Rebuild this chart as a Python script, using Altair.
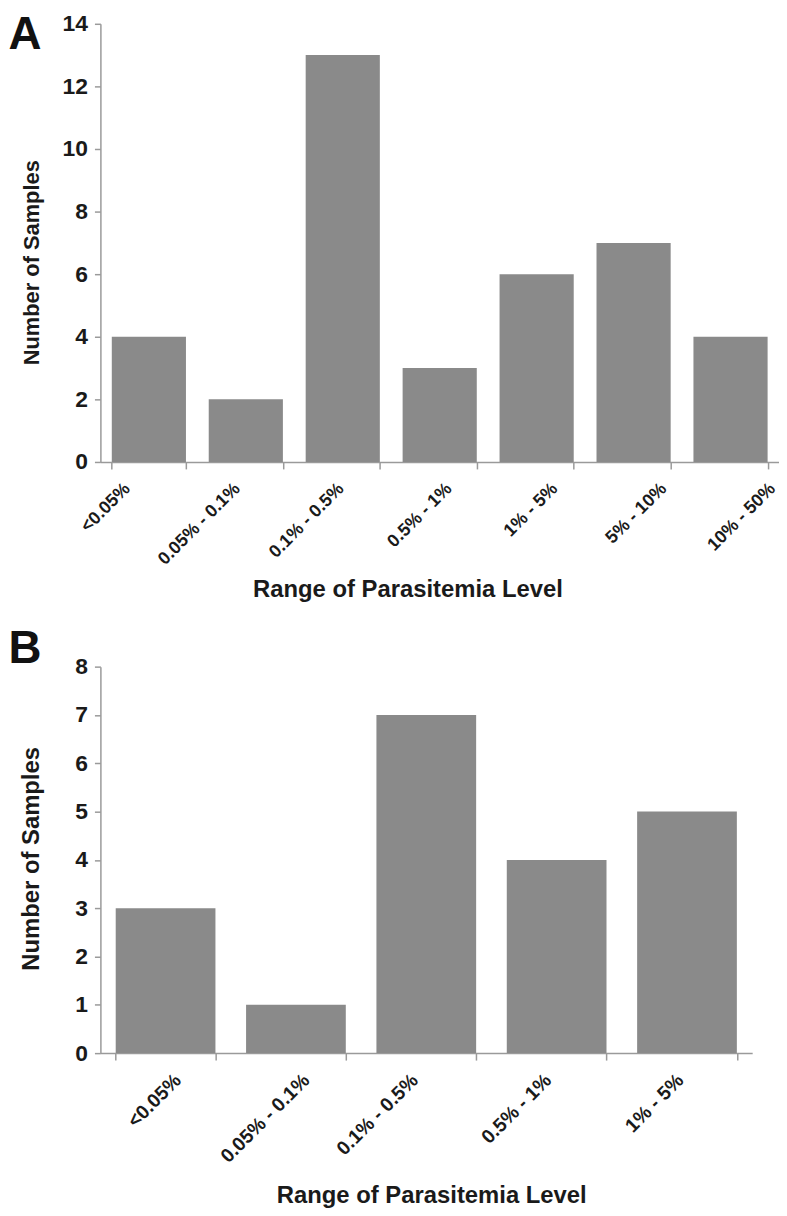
import json
import altair as alt
import pandas as pd

FONT = "Liberation Sans"

cats_a = ["<0.05%", "0.05% - 0.1%", "0.1% - 0.5%", "0.5% - 1%", "1% - 5%", "5% - 10%", "10% - 50%"]
vals_a = [4, 2, 13, 3, 6, 7, 4]
yticks_a = [0, 2, 4, 6, 8, 10, 12, 14]

cats_b = ["<0.05%", "0.05% - 0.1%", "0.1% - 0.5%", "0.5% - 1%", "1% - 5%"]
vals_b = [3, 1, 7, 4, 5]
yticks_b = [0, 1, 2, 3, 4, 5, 6, 7, 8]


def panel(cats, vals, yticks, letter, w, h, letter_y, label_shift, xlab_size,
          ytitle_size, ytitle_y, xtitle_x, xtitle_y):
    df = pd.DataFrame({"range": cats, "n": vals})
    off_expr = "[" + ",".join(str(v) for v in label_shift) + "][indexof(" + json.dumps(cats) + ", datum.value)]"
    xscale = alt.Scale(paddingInner=0.235, paddingOuter=0.1175)
    yenc = alt.Y(
        "n:Q",
        scale=alt.Scale(domain=[0, max(yticks)], nice=False),
        axis=alt.Axis(
            title="Number of Samples", values=yticks, format="d",
            labelFontSize=23, labelPadding=7, tickSize=6,
            titleFontSize=ytitle_size, titleX=-69, titleY=ytitle_y,
            titleBaseline="middle", titleAlign="center",
        ),
    )
    bars = (
        alt.Chart(df)
        .mark_bar(color="#8a8a8a")
        .encode(
            x=alt.X(
                "range:N", sort=cats, scale=xscale,
                axis=alt.Axis(
                    title="Range of Parasitemia Level",
                    labelAngle=-45, labelAlign="right", labelBaseline="middle",
                    labelFontSize=xlab_size, labelPadding=17,
                    labelOffset={"condition": {"test": "false", "value": 0}, "expr": off_expr},
                    tickBand="extent", tickSize=7,
                    titleX=xtitle_x, titleY=xtitle_y, titleBaseline="middle",
                    titleAlign="center", titleFontSize=24,
                ),
            ),
            y=yenc,
        )
    )
    # panel letter carried by an empty top axis
    letter_axis = (
        alt.Chart(df)
        .mark_bar(opacity=0)
        .encode(
            x=alt.X(
                "range:N", sort=cats, scale=xscale,
                axis=alt.Axis(
                    orient="top", title=letter, domain=False, ticks=False, labels=False,
                    titleX=-93, titleY=letter_y, titleAngle=0, titleAlign="left",
                    titleBaseline="alphabetic", titleFontSize=46, titleColor="#111111",
                ),
            ),
            y=alt.Y("n:Q"),
        )
    )
    return (
        alt.layer(bars, letter_axis)
        .resolve_axis(x="independent")
        .properties(width=w, height=h)
    )


pa = panel(cats_a, vals_a, yticks_a, "A", 683, 441, 25,
           [-22, -9, -2, 9, 18, 30, 42], 18, 22, 240, 309, 128)
pb = panel(cats_b, vals_b, yticks_b, "B", 656, 389, -4,
           [12, 10, -12, -9, -7], 19.5, 24, 193, 333, 143)

chart = (
    alt.vconcat(pa, pb, spacing=25)
    .properties(padding=0)
    .configure_view(stroke=None)
    .configure_axis(
        domainColor="#9a9a9a", tickColor="#9a9a9a", grid=False,
        labelFont=FONT, labelFontWeight="bold", labelColor="#1a1a1a",
        titleFont=FONT, titleFontWeight="bold", titleColor="#1a1a1a",
        domainWidth=1.5, tickWidth=1.5,
    )
)

chart.save("out.html", embed_options={"renderer": "svg", "actions": False})
